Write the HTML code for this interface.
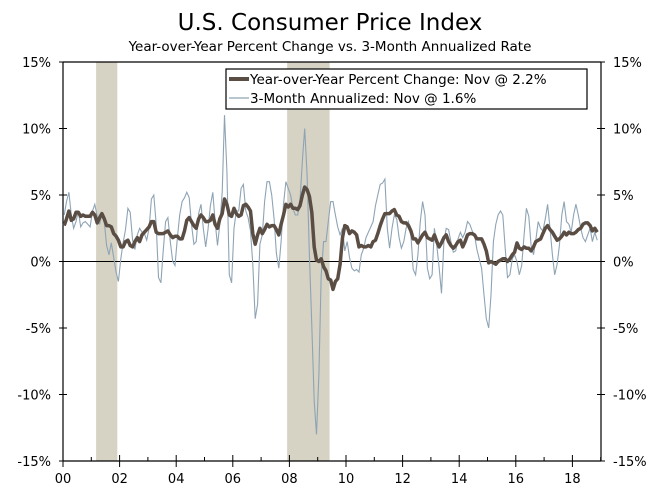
<!DOCTYPE html>
<html><head><meta charset="utf-8"><style>
body{margin:0;background:#fff;}
svg{display:block;font-family:"DejaVu Sans","Liberation Sans",sans-serif;}
</style></head><body>
<svg id="chart" width="659" height="500">
<text x="330" y="30" text-anchor="middle" font-size="23" fill="#000">U.S. Consumer Price Index</text>
<text x="330" y="51" text-anchor="middle" font-size="13.5" fill="#000">Year-over-Year Percent Change vs. 3-Month Annualized Rate</text>
<g id="rec"></g>
<g id="grid"></g>
<g id="series"></g>
<g>
<rect x="226" y="69" width="361" height="40" fill="#fff" stroke="#000" stroke-width="1.2"/>
<line x1="229" y1="79" x2="249" y2="79" stroke="#5a4d44" stroke-width="4"/>
<text x="250" y="84" font-size="13.5">Year-over-Year Percent Change: Nov @ 2.2%</text>
<line x1="229" y1="98" x2="249" y2="98" stroke="#8ea4b5" stroke-width="1.2"/>
<text x="250" y="103" font-size="13.5">3-Month Annualized: Nov @ 1.6%</text>
</g>
</svg>
<script>
const yoy=[2.7,3.2,3.8,3.1,3.2,3.7,3.7,3.4,3.5,3.4,3.4,3.4,
3.7,3.5,2.9,3.3,3.6,3.2,2.7,2.7,2.6,2.1,1.9,1.6,
1.1,1.1,1.5,1.6,1.2,1.1,1.5,1.8,1.5,2.0,2.2,2.4,
2.6,3.0,3.0,2.2,2.1,2.1,2.1,2.2,2.3,2.0,1.8,1.9,
1.9,1.7,1.7,2.3,3.1,3.3,3.0,2.7,2.5,3.2,3.5,3.3,
3.0,3.0,3.1,3.5,2.8,2.5,3.2,3.6,4.7,4.3,3.5,3.4,
4.0,3.6,3.4,3.5,4.2,4.3,4.1,3.8,2.1,1.3,2.0,2.5,
2.1,2.4,2.8,2.6,2.7,2.7,2.4,2.0,2.8,3.5,4.3,4.1,
4.3,4.0,4.0,3.9,4.2,5.0,5.6,5.4,4.9,3.7,1.1,0.1,
0.0,0.2,-0.4,-0.7,-1.3,-1.4,-2.1,-1.5,-1.3,-0.2,1.8,2.7,
2.6,2.1,2.3,2.2,2.0,1.1,1.2,1.1,1.1,1.2,1.1,1.5,
1.6,2.1,2.7,3.2,3.6,3.6,3.6,3.8,3.9,3.5,3.4,3.0,
2.9,2.9,2.7,2.3,1.7,1.7,1.4,1.7,2.0,2.2,1.8,1.7,
1.6,2.0,1.5,1.1,1.4,1.8,2.0,1.5,1.2,1.0,1.2,1.5,
1.6,1.1,1.5,2.0,2.1,2.1,2.0,1.7,1.7,1.7,1.3,0.8,
-0.1,0.0,-0.1,-0.2,0.0,0.1,0.2,0.2,0.0,0.2,0.5,0.7,
1.4,1.0,0.9,1.1,1.0,1.0,0.8,1.1,1.5,1.6,1.7,2.1,
2.5,2.7,2.4,2.2,1.9,1.6,1.7,1.9,2.2,2.0,2.2,2.1,
2.1,2.2,2.4,2.5,2.8,2.9,2.9,2.7,2.3,2.5,2.2];
const ann3m=[3.5,4.5,5.2,3.5,2.5,3.0,3.8,2.6,2.9,3.0,2.8,2.6,
3.8,4.3,3.4,2.8,3.6,3.0,1.2,0.5,1.4,0.3,-0.8,-1.5,
0.2,1.4,2.4,4.0,3.7,1.6,0.9,2.0,2.5,2.2,2.1,1.6,
2.5,4.7,5.0,2.8,-1.2,-1.6,0.8,3.0,3.3,1.5,0.0,-0.3,
1.8,3.5,4.5,4.8,5.2,4.8,2.8,1.3,1.5,3.6,4.3,2.5,
1.1,2.4,4.2,5.2,3.0,1.2,2.8,5.2,11.0,6.8,-1.0,-1.6,
2.5,3.8,3.8,5.5,5.8,3.8,3.3,2.3,-0.2,-4.3,-3.2,1.3,
2.0,4.5,6.0,6.0,5.0,3.2,0.6,-0.5,1.5,4.3,6.0,5.5,
5.0,4.0,3.5,3.5,4.6,7.6,10.0,6.5,0.5,-4.8,-10.5,-13.0,
-8.5,-1.0,1.5,1.5,3.0,4.5,4.5,3.5,2.6,2.0,2.5,0.8,
1.5,0.3,-0.5,-0.7,-0.6,-0.8,0.5,1.0,1.8,2.2,2.6,3.0,
4.2,5.0,5.8,5.9,6.2,2.5,1.0,2.5,3.5,3.2,1.8,1.0,
1.5,2.5,3.0,2.0,-0.6,-1.0,0.5,3.0,4.5,3.5,-0.5,-1.3,
-1.0,2.5,1.2,-0.5,-2.4,1.5,2.5,2.4,1.5,0.7,0.8,1.7,
2.2,1.8,2.2,3.0,2.8,2.3,2.0,0.9,0.2,-0.5,-2.5,-4.3,
-5.0,-2.5,1.5,2.8,3.5,3.8,3.5,1.0,-1.2,-1.0,0.2,0.5,
0.0,-1.0,-0.3,2.0,4.0,3.4,1.2,0.5,1.6,3.0,2.5,2.3,
3.2,4.3,2.5,0.5,-1.0,-0.2,1.2,3.5,4.5,3.0,2.8,2.2,
3.5,4.3,3.5,2.5,1.8,1.5,2.0,2.5,1.5,2.2,1.6];
const yTicks=[15,10,5,0,-5,-10,-15];
const xTickYears=[0,2,4,6,8,10,12,14,16,18];
const recessions=[[2001.17,2001.92],[2007.92,2009.42]];

const NS="http://www.w3.org/2000/svg";
const L=63,R=601,T=62,B=461,startYear=2000,pxYr=28.3;
const xs=yr=>L+(yr-startYear)*pxYr;
const ys=v=>T+(15-v)/30*(B-T);
function mk(tag,attrs,parent){const e=document.createElementNS(NS,tag);for(const k in attrs)e.setAttribute(k,attrs[k]);parent.appendChild(e);return e;}
const rec=document.getElementById('rec'),grid=document.getElementById('grid'),ser=document.getElementById('series');
recessions.forEach((r,i)=>{
 const e=mk('rect',{x:xs(r[0]),y:T,width:xs(r[1])-xs(r[0]),height:B-T,fill:'#d6d2c4'},rec);
 
 
});
let e;
e=mk('line',{x1:L,y1:T,x2:L,y2:B,stroke:'#000','stroke-width':1.2},grid);


e=mk('line',{x1:R,y1:T,x2:R,y2:B,stroke:'#000','stroke-width':1.2},grid);


e=mk('line',{x1:L,y1:T,x2:R,y2:T,stroke:'#000','stroke-width':1.2},grid);


e=mk('line',{x1:L,y1:B,x2:R,y2:B,stroke:'#000','stroke-width':1.2},grid);


e=mk('line',{x1:L,y1:ys(0),x2:R,y2:ys(0),stroke:'#000','stroke-width':1},grid);


yTicks.forEach(v=>{
 const y=ys(v);
 mk('line',{x1:L-4,y1:y,x2:L+4,y2:y,stroke:'#000'},grid);
 mk('line',{x1:R-4,y1:y,x2:R+4,y2:y,stroke:'#000'},grid);
 const t=mk('text',{x:L-12,y:y+5,'text-anchor':'end','font-size':13},grid);t.textContent=v+'%';
 
 
 const t2=mk('text',{x:R+12,y:y+5,'text-anchor':'start','font-size':13},grid);t2.textContent=v+'%';
 
 
});
for(let yr=0;yr<=19;yr++){
 const x=xs(startYear+yr);const major=yr%2===0;
 mk('line',{x1:x,y1:B-(major?6:4),x2:x,y2:B+(major?6:0),stroke:'#000'},grid);
}
xTickYears.forEach(yr=>{
 const t=mk('text',{x:xs(startYear+yr),y:B+22,'text-anchor':'middle','font-size':13},grid);
 t.textContent=String(yr).padStart(2,'0');
 
 
});
function path(arr){return arr.map((v,i)=>(i?'L':'M')+xs(startYear+(i+0.5)/12).toFixed(1)+','+ys(v).toFixed(1)).join('');}
const p1=mk('path',{d:path(ann3m),fill:'none',stroke:'#8ea4b5','stroke-width':1.1},ser);


const p2=mk('path',{d:path(yoy),fill:'none',stroke:'#5a4d44','stroke-width':3.5,'stroke-linejoin':'round'},ser);


</script>
</body></html>
